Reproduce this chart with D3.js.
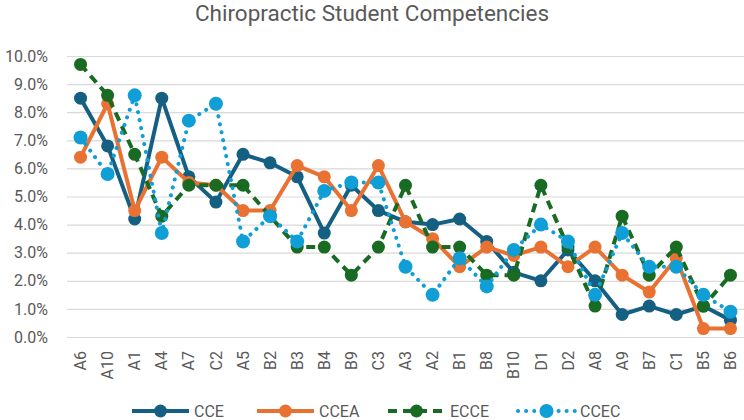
<!DOCTYPE html>
<html>
<head>
<meta charset="utf-8">
<script src="https://cdn.jsdelivr.net/npm/d3@7"></script>
<style>
  body { margin: 0; background: #fff; }
  text { font-family: Roboto, "Liberation Sans", sans-serif; fill: #595959; }
</style>
</head>
<body>
<script>
const width = 744;
const height = 420;

const categories = ["A6", "A10", "A1", "A4", "A7", "C2", "A5", "B2", "B3", "B4", "B9", "C3", "A3",
  "A2", "B1", "B8", "B10", "D1", "D2", "A8", "A9", "B7", "C1", "B5", "B6"];

const cce  = [8.5, 6.8, 4.2, 8.5, 5.7, 4.8, 6.5, 6.2, 5.7, 3.7, 5.4, 4.5, 4.1, 4.0, 4.2, 3.4, 2.3, 2.0, 3.1, 2.0, 0.8, 1.1, 0.8, 1.1, 0.6];
const ccea = [6.4, 8.3, 4.5, 6.4, 5.5, 5.4, 4.5, 4.5, 6.1, 5.7, 4.5, 6.1, 4.1, 3.5, 2.5, 3.2, 2.9, 3.2, 2.5, 3.2, 2.2, 1.6, 2.8, 0.3, 0.3];
const ecce = [9.7, 8.6, 6.5, 4.3, 5.4, 5.4, 5.4, 4.3, 3.2, 3.2, 2.2, 3.2, 5.4, 3.2, 3.2, 2.2, 2.2, 5.4, 3.2, 1.1, 4.3, 2.2, 3.2, 1.1, 2.2];
const ccec = [7.1, 5.8, 8.6, 3.7, 7.7, 8.3, 3.4, 4.3, 3.4, 5.2, 5.5, 5.5, 2.5, 1.5, 2.8, 1.8, 3.1, 4.0, 3.4, 1.5, 3.7, 2.5, 2.5, 1.5, 0.9];

const yTicks = [0, 1, 2, 3, 4, 5, 6, 7, 8, 9, 10];

const series = [
  { name: "CCE",  values: cce,  color: "#156082", dash: null,  r: 6.5 },
  { name: "CCEA", values: ccea, color: "#E97132", dash: null,  r: 6.5 },
  { name: "ECCE", values: ecce, color: "#196B24", dash: "9,6", r: 6.5 },
  { name: "CCEC", values: ccec, color: "#0F9ED5", dash: "0.1,8", r: 7 }
];

const margin = { top: 56, right: 0, bottom: 83, left: 67 };

const svg = d3.select("body").append("svg")
  .attr("width", width)
  .attr("height", height);

const x = d3.scaleBand()
  .domain(categories)
  .range([margin.left, width - margin.right]);

const y = d3.scaleLinear()
  .domain([0, 10])
  .range([height - margin.bottom, margin.top]);

// title
svg.append("text")
  .attr("x", width / 2)
  .attr("y", 21)
  .attr("text-anchor", "middle")
  .style("font-size", "22.5px")
  .text("Chiropractic Student Competencies");

// gridlines
svg.append("g")
  .selectAll("line")
  .data(yTicks)
  .enter().append("line")
  .attr("x1", margin.left)
  .attr("x2", width - margin.right)
  .attr("y1", d => y(d) + 0.5)
  .attr("y2", d => y(d) + 0.5)
  .attr("stroke", "#d9d9d9")
  .attr("stroke-width", 1.2);

// y axis labels
const yAxis = svg.append("g")
  .attr("transform", "translate(" + (margin.left - 16) + ",0)")
  .call(d3.axisLeft(y).tickValues(yTicks).tickSize(0).tickFormat(d => d.toFixed(1) + "%"));
yAxis.select(".domain").remove();
yAxis.selectAll("text").style("font-size", "16px").attr("fill", "#595959");

// x axis labels
const xAxis = svg.append("g")
  .attr("transform", "translate(0," + y(0) + ")")
  .call(d3.axisBottom(x).tickSize(0));
xAxis.select(".domain").remove();
xAxis.selectAll("text")
  .style("font-size", "16px")
  .attr("fill", "#595959")
  .attr("transform", "rotate(-90)")
  .attr("text-anchor", "end")
  .attr("x", -14)
  .attr("y", 0)
  .attr("dy", "0.35em");

const cx = function (i) { return x(categories[i]) + x.bandwidth() / 2; };

const line = d3.line()
  .x((d, i) => cx(i))
  .y(d => y(d));

series.forEach(function (s) {
  const g = svg.append("g");
  g.append("path")
    .attr("d", line(s.values))
    .attr("fill", "none")
    .attr("stroke", s.color)
    .attr("stroke-width", 4)
    .attr("stroke-linecap", s.name === "CCEC" ? "round" : "butt")
    .attr("stroke-linejoin", "round")
    .attr("stroke-dasharray", s.dash);
  g.selectAll("circle")
    .data(s.values)
    .enter().append("circle")
    .attr("cx", (d, i) => cx(i))
    .attr("cy", d => y(d))
    .attr("r", s.r)
    .attr("fill", s.color);
});

// legend
const legendX = [132, 257, 388, 518];
const legend = svg.append("g").attr("transform", "translate(0,411)");
series.forEach(function (s, i) {
  const lg = legend.append("g").attr("transform", "translate(" + legendX[i] + ",0)");
  lg.append("line")
    .attr("x1", 0).attr("x2", 57)
    .attr("stroke", s.color)
    .attr("stroke-width", 4)
    .attr("stroke-linecap", s.name === "CCEC" ? "round" : "butt")
    .attr("stroke-dasharray", s.dash);
  lg.append("circle")
    .attr("cx", 28.5)
    .attr("r", s.r)
    .attr("fill", s.color);
  lg.append("text")
    .attr("x", 62)
    .attr("dy", "0.35em")
    .style("font-size", "16px")
    .text(s.name);
});
</script>
</body>
</html>
